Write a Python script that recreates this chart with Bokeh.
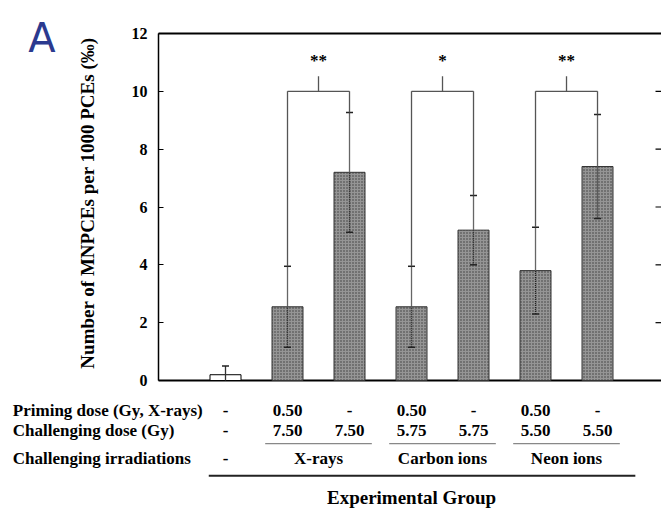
import math
from bokeh.plotting import figure
from bokeh.models import LinearAxis, Label, Range1d, FixedTicker, ColumnDataSource
from bokeh.embed import file_html
from bokeh.resources import INLINE
from bokeh.core.properties import value

# ---------------- data ----------------
groups = ["Control", "X primed", "X", "C primed", "C", "Ne primed", "Ne"]
means = [0.2, 2.55, 7.2, 2.55, 5.2, 3.8, 7.4]
sds = [0.3, 1.4, 2.07, 1.4, 1.2, 1.5, 1.8]
pairs = [(1, 2), (3, 4), (5, 6)]
stars = ["**", "*", "**"]
bracket_level = 10.0
y_ticks = [0, 2, 4, 6, 8, 10, 12]

row_labels = ["Priming dose (Gy, X-rays)", "Challenging dose (Gy)", "Challenging irradiations"]
priming_row = ["-", "0.50", "-", "0.50", "-", "0.50", "-"]
challenge_row = ["-", "7.50", "7.50", "5.75", "5.75", "5.50", "5.50"]
irradiations = ["X-rays", "Carbon ions", "Neon ions"]
group_title = "Experimental Group"
y_title = "Number of MNPCEs per 1000 PCEs (\u2030)"
panel_tag = "A"

# ---------------- layout ----------------
SERIF = value("Liberation Serif")
xs = list(range(len(groups)))
X_LEFT, X_RIGHT = -1.08, 7.0      # plot-frame edges in category units
p = figure(width=661, height=508, output_backend="svg", toolbar_location=None,
           x_range=Range1d(-3.629, 7.032), y_range=Range1d(-4.426, 13.141),
           x_axis_location=None, y_axis_location=None,
           min_border_left=0, min_border_top=0, min_border_bottom=0, min_border_right=0)
p.outline_line_color = None
p.xgrid.visible = False
p.ygrid.visible = False

left = LinearAxis(fixed_location=X_LEFT, bounds=(0, 12), ticker=FixedTicker(ticks=y_ticks),
                  major_tick_in=5, major_tick_out=0, minor_tick_line_color=None,
                  axis_line_width=1.5, major_label_standoff=11,
                  major_label_text_font="Liberation Serif", major_label_text_font_style="bold",
                  major_label_text_font_size="16px", major_label_text_color="black")
p.add_layout(left, "left")

# right-side inner ticks, top border and baseline
p.scatter(x=[X_RIGHT] * len(y_ticks[1:-1]), y=y_ticks[1:-1], marker="dash", size=8,
          line_color="black", line_width=1.2)
p.segment(x0=[X_LEFT, X_LEFT], y0=[12, 0], x1=[7.1, 7.1], y1=[12, 0],
          line_color="black", line_width=2)

# bars
bar_src = ColumnDataSource(dict(x=xs[1:], top=means[1:]))
p.vbar(x="x", top="top", bottom=0, width=0.5, source=bar_src,
       fill_color="#959595", line_color="#333333", line_width=1,
       hatch_pattern=".", hatch_color="#3a3a3a", hatch_scale=3, hatch_weight=1)
p.vbar(x=[xs[0]], top=[means[0]], bottom=0, width=0.5, fill_color="white",
       line_color="black", line_width=1)

# error bars
upper = [m + s for m, s in zip(means, sds)]
lower = [max(m - s, 0) for m, s in zip(means, sds)]
p.segment(x0=xs[1:], y0=means[1:], x1=xs[1:], y1=upper[1:], line_color="#666666", line_width=1.3)
p.segment(x0=xs[1:], y0=lower[1:], x1=xs[1:], y1=means[1:], line_color="#222222",
          line_width=1.3, line_dash="1 1")
p.segment(x0=[xs[0]], y0=[lower[0]], x1=[xs[0]], y1=[upper[0]], line_color="#333333", line_width=1.3)
p.scatter(x=xs, y=upper, marker="dash", size=7, line_color="#222222", line_width=1.5)
p.scatter(x=xs[1:], y=[lower[i] for i in xs[1:]], marker="dash", size=7,
          line_color="#222222", line_width=1.5)

# significance brackets
bx0, by0, bx1, by1 = [], [], [], []
star_x = []
for (a, b) in pairs:
    bx0 += [xs[a], xs[b], xs[a], (xs[a] + xs[b]) / 2]
    by0 += [upper[a], upper[b], bracket_level, bracket_level]
    bx1 += [xs[a], xs[b], xs[b], (xs[a] + xs[b]) / 2]
    by1 += [bracket_level, bracket_level, bracket_level, bracket_level + 0.52]
    star_x.append((xs[a] + xs[b]) / 2)
p.segment(x0=bx0, y0=by0, x1=bx1, y1=by1, line_color="#555555", line_width=1.3)
p.text(x=star_x, y=[bracket_level + 1.05] * len(star_x), text=stars, text_align="center",
       text_baseline="middle", text_font=SERIF, text_font_style="bold", text_font_size="17px",
       text_color="black")

# table below (columns sit under the bars)
row_y = [-1.04, -1.73, -2.70]
TS = "17px"
common = dict(text_baseline="middle", text_font=SERIF, text_font_style="bold", text_color="black")
p.text(x=[-3.43] * 3, y=row_y, text=row_labels, text_align="left", text_font_size=TS, **common)
p.text(x=xs, y=[row_y[0]] * 7, text=priming_row, text_align="center", text_font_size=TS, **common)
p.text(x=xs, y=[row_y[1]] * 7, text=challenge_row, text_align="center", text_font_size=TS, **common)
p.text(x=[xs[0]], y=[row_y[2]], text=["-"], text_align="center", text_font_size=TS, **common)
g_mid = [(xs[a] + xs[b]) / 2 for a, b in pairs]
p.text(x=g_mid, y=[row_y[2]] * 3, text=irradiations, text_align="center", text_font_size=TS, **common)
half = 0.86
p.segment(x0=[g - half for g in g_mid], y0=[-2.18] * 3, x1=[g + half for g in g_mid], y1=[-2.18] * 3,
          line_color="#888888", line_width=1.3)
p.segment(x0=[xs[0] - 0.27], y0=[-3.29], x1=[xs[-1] + 0.61], y1=[-3.29],
          line_color="#222222", line_width=2)
p.text(x=[(xs[0] + xs[-1]) / 2], y=[-4.05], text=[group_title], text_align="center",
       text_font_size="19px", **common)

# y title and panel tag
p.add_layout(Label(x=-2.226, y=6.14, text=y_title, angle=math.pi / 2, text_align="center",
                   text_baseline="middle", text_font="Liberation Serif", text_font_style="bold",
                   text_font_size="19px", text_color="black"))
p.add_layout(Label(x=-3.18, y=11.86, text=panel_tag, text_align="left", text_baseline="alphabetic",
                   text_font="DejaVu Sans", text_font_size="40px", text_color="#2b3a8f"))

open("out.html", "w").write(file_html(p, INLINE))
